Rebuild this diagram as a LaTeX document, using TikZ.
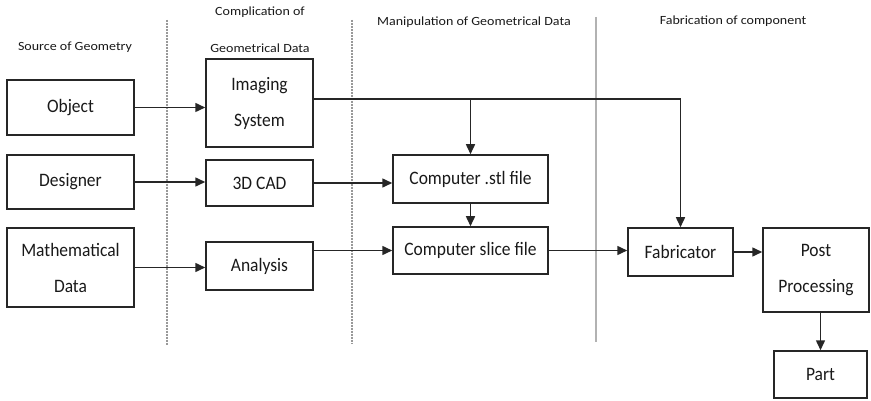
\documentclass[tikz,border=0pt]{standalone}
\usepackage{fontspec}
\setmainfont{Carlito}
\newfontfamily\boxfont[FakeStretch=0.92]{Carlito}
\newfontfamily\labfont[FakeStretch=1.12]{Carlito}
\usetikzlibrary{arrows.meta}
\begin{document}
\begin{tikzpicture}[x=1pt,y=-1pt,
  box/.style={draw=black!85, line width=1.5pt, inner sep=0pt, text=black!90,
    align=center, font={\boxfont\fontsize{19}{36}\selectfont}},
  lab/.style={inner sep=0pt, text=black!90,
    align=center, font={\labfont\fontsize{12.5}{36}\selectfont}},
  arr/.style={draw=black!85, line width=1.5pt, -{Triangle[length=10pt,width=9pt]}},
  divider/.style={draw=gray!80, line width=1.2pt, dash pattern=on 1pt off 0.5pt},
  divsolid/.style={draw=gray!60, line width=1.2pt}]
\useasboundingbox (0,0) rectangle (871,401);

% stage dividers
\draw[divider] (167,20) -- (167,345);
\draw[divider] (352,20) -- (352,344);
\draw[divsolid] (596,17) -- (596,342);

% stage headings
\node[lab] (h1) at (75,47) {Source of Geometry};
\node[lab] (h2a) at (260,12) {Complication of};
\node[lab] (h2b) at (260,48) {Geometrical Data};
\node[lab] (h3) at (474,22) {Manipulation of Geometrical Data};
\node[lab] (h4) at (733,21) {Fabrication of component};

% boxes
\node[box, minimum width=127pt, minimum height=55pt] (obj) at (70.5,107.5) {Object};
\node[box, minimum width=127pt, minimum height=54pt] (des) at (70.5,182) {Designer};
\node[box, minimum width=127pt, minimum height=79pt] (math) at (70.5,267.5) {Mathematical\\Data};
\node[box, minimum width=107pt, minimum height=88pt] (img) at (259.5,103) {Imaging\\System};
\node[box, minimum width=107pt, minimum height=46pt] (cad) at (259.5,183) {3D CAD};
\node[box, minimum width=107pt, minimum height=48pt] (ana) at (259.5,266) {Analysis};
\node[box, minimum width=155pt, minimum height=48pt] (stl) at (470.5,179) {Computer .stl file};
\node[box, minimum width=155pt, minimum height=47pt] (slice) at (470.5,250.5) {Computer slice file};
\node[box, minimum width=105pt, minimum height=48pt] (fab) at (680.5,252) {Fabricator};
\node[box, minimum width=106pt, minimum height=84pt] (post) at (816,270) {Post\\Processing};
\node[box, minimum width=93pt, minimum height=47pt] (part) at (820.5,374.5) {Part};

% connectors
\draw[arr] (obj.east) -- (obj.east -| img.west);
\coordinate (imgout) at ([yshift=4pt]img.east);
\draw[arr] (imgout) -| (fab.north);
\coordinate (branch) at (stl.north |- imgout);
\draw[arr] (branch) -- (stl.north);
\draw[arr] (des.east) -- (des.east -| cad.west);
\draw[arr] (cad.east) -- (cad.east -| stl.west);
\draw[arr] (math.east) -- (math.east -| ana.west);
\draw[arr] (ana.east |- slice.west) -- (slice.west);
\draw[arr] (stl.south) -- (slice.north);
\draw[arr] (slice.east) -- (slice.east -| fab.west);
\draw[arr] (fab.east) -- (fab.east -| post.west);
\draw[arr] (part.north |- post.south) -- (part.north);
\end{tikzpicture}
\end{document}
